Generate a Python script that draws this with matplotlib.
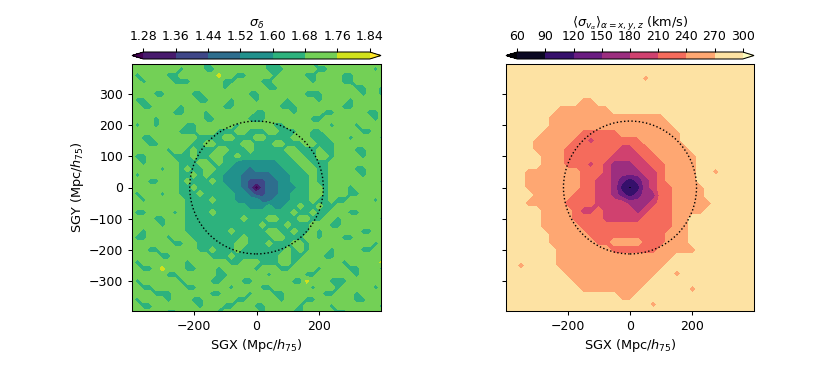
import numpy as np
import matplotlib
matplotlib.use("Agg")
import matplotlib.pyplot as plt
from matplotlib.patches import Circle

plt.rcParams.update({
    "font.size": 9.3,
    "xtick.labelsize": 9, "ytick.labelsize": 9,
    "axes.linewidth": 0.75,
    "xtick.major.size": 3.2, "ytick.major.size": 3.2,
    "xtick.major.pad": 3.2, "ytick.major.pad": 3.2,
    "xtick.major.width": 0.75, "ytick.major.width": 0.75,
})

# grid nodes, Mpc/h75
delta_x = list(range(-400, 401, 20))
delta_y = delta_x[::-1]
v_x = list(range(-400, 401, 25))
v_y = v_x[::-1]

# sigma_delta x 100, top row first
sigma_delta = [
    [172,172,172,164,164,172,172,172,172,172,172,172,164,172,172,172,172,172,164,172,172,172,164,164,172,172,172,172,172,164,172,172,172,172,172,172,164,172,172,172,172],
    [172,172,172,172,172,172,172,172,164,172,172,172,164,164,172,172,172,172,172,172,172,172,164,164,164,172,172,172,172,172,164,164,172,172,172,172,172,172,172,164,172],
    [172,164,172,172,172,172,164,164,172,172,172,172,172,172,178,172,172,164,164,172,172,172,172,164,172,172,172,172,164,164,172,172,172,172,164,164,172,172,172,172,172],
    [172,172,164,172,172,172,172,164,164,164,172,172,172,172,172,164,164,172,172,172,172,164,164,172,172,172,172,172,172,164,172,172,172,172,164,164,172,172,172,172,172],
    [172,172,172,172,172,172,172,172,172,172,172,172,172,172,172,164,172,172,172,172,172,172,164,164,172,172,172,172,172,172,172,172,172,172,172,172,164,164,172,172,164],
    [172,172,172,172,164,164,172,172,172,172,164,164,172,172,172,172,172,172,172,164,164,172,172,172,172,172,172,172,164,164,164,172,172,172,172,172,172,164,172,172,164],
    [172,164,164,172,172,172,172,172,172,172,172,164,164,172,172,172,164,172,172,172,164,172,172,172,172,164,172,172,172,172,164,172,172,172,172,164,172,172,172,172,172],
    [172,172,164,164,172,172,172,172,164,172,172,172,172,172,172,164,164,172,172,172,172,172,172,172,164,164,164,172,172,172,172,172,172,172,164,164,172,172,172,172,172],
    [172,172,172,172,172,172,172,164,164,172,172,172,164,172,172,172,172,172,172,172,164,164,172,172,172,172,164,172,172,172,172,164,164,172,172,172,172,172,164,164,172],
    [172,172,172,172,164,172,172,172,172,172,172,172,164,164,172,172,172,172,172,164,164,164,172,172,172,172,172,172,172,164,164,172,172,172,172,172,172,172,172,164,172],
    [172,164,172,172,164,172,172,172,172,164,164,172,172,172,172,172,172,164,172,172,172,172,172,164,164,172,172,172,172,172,172,172,164,172,172,172,164,172,172,172,172],
    [172,172,172,172,172,172,172,172,164,164,164,172,172,172,164,164,164,172,172,164,164,164,172,172,164,164,164,172,172,164,164,172,172,172,172,172,172,164,164,172,172],
    [172,172,164,164,172,172,172,172,172,172,172,164,164,164,164,172,172,164,164,164,172,172,164,164,164,164,172,172,172,164,164,164,172,172,172,164,172,172,172,172,164],
    [172,172,172,164,164,172,172,172,172,172,164,164,172,172,164,164,164,164,172,172,164,164,164,172,172,164,164,164,172,172,164,164,164,172,172,172,172,172,172,172,172],
    [172,172,172,172,172,172,164,172,172,164,172,164,164,164,172,172,164,164,164,172,164,164,164,164,164,172,172,164,164,164,172,164,164,172,172,172,164,164,172,172,172],
    [172,164,164,172,172,172,172,164,164,164,172,164,164,172,172,164,164,172,164,164,164,164,164,164,164,164,172,172,164,164,172,172,164,172,172,172,172,164,172,172,172],
    [172,172,164,172,172,172,172,172,164,164,164,172,172,164,172,164,164,156,156,156,156,156,156,156,164,164,164,172,172,164,164,164,172,172,172,172,172,172,172,172,172],
    [172,172,172,172,172,164,172,172,164,172,164,164,172,172,164,164,156,156,156,148,156,156,156,156,156,164,164,164,172,172,164,164,172,172,172,172,164,164,172,172,172],
    [172,164,172,172,172,172,172,172,164,164,172,164,172,164,164,156,156,156,148,148,148,148,148,156,156,156,164,164,164,172,164,164,172,172,172,172,172,164,172,172,172],
    [172,172,172,164,164,172,172,172,164,172,164,164,164,172,164,156,156,156,148,140,140,140,148,148,156,156,164,164,164,172,164,164,172,172,172,172,172,172,172,172,164],
    [172,172,172,172,172,172,172,172,164,164,172,164,164,164,164,164,156,156,148,140,120,140,148,148,156,156,156,164,164,172,172,164,172,172,172,164,172,172,172,172,172],
    [172,164,172,172,172,164,172,172,164,164,164,172,164,164,164,164,164,156,156,148,140,140,148,148,156,156,164,164,164,172,172,164,172,172,172,164,164,172,172,172,172],
    [172,172,164,172,172,172,172,172,172,164,164,164,164,172,164,164,164,156,156,156,156,148,148,156,156,156,164,164,164,172,164,164,172,164,164,172,172,172,172,164,172],
    [172,172,172,172,172,172,172,172,172,164,164,164,164,164,164,164,164,164,164,156,156,156,164,156,156,164,164,172,164,164,172,164,164,172,172,172,172,172,172,172,172],
    [172,164,164,172,172,172,172,164,172,164,164,164,164,172,164,164,164,164,164,164,164,164,164,164,164,164,172,164,164,172,164,164,172,172,172,164,164,172,172,172,172],
    [172,172,172,172,164,164,172,172,172,164,164,164,164,164,164,164,164,164,172,164,164,164,172,172,164,164,164,172,172,164,164,172,172,164,172,172,172,172,172,172,164],
    [172,172,172,172,172,164,172,172,172,164,164,164,164,164,164,164,164,164,164,164,164,172,164,164,164,172,164,164,164,172,172,172,164,164,172,172,172,172,172,172,172],
    [172,172,164,172,172,172,172,172,172,164,164,164,164,164,164,164,172,164,164,164,164,164,172,172,164,164,172,164,164,172,164,172,172,172,172,172,172,164,164,172,172],
    [172,164,164,172,172,172,164,172,172,172,164,164,164,164,164,164,164,164,172,164,164,164,164,172,172,164,164,164,172,172,164,172,172,172,164,164,172,172,172,172,172],
    [172,172,172,172,172,172,172,164,164,172,172,164,164,164,164,164,164,172,172,164,164,164,172,164,164,164,172,172,164,172,172,172,172,172,172,172,172,172,172,164,172],
    [172,172,172,164,164,172,172,172,172,172,172,164,164,172,164,164,164,172,164,164,164,164,164,164,164,172,164,172,164,172,172,172,164,172,172,172,172,164,164,172,172],
    [172,172,172,172,172,164,164,172,172,172,172,172,172,164,164,164,172,164,164,164,164,164,164,164,172,172,164,164,172,172,172,164,164,172,172,172,172,172,172,172,172],
    [172,164,172,172,172,172,172,172,172,164,172,172,172,172,172,172,164,164,172,172,172,164,164,164,172,172,164,172,172,172,172,172,172,172,164,172,172,172,172,172,178],
    [172,172,164,164,172,178,172,172,172,164,164,172,172,172,164,172,172,172,172,172,164,172,172,172,164,164,172,172,172,172,164,172,172,172,172,164,164,172,172,172,164],
    [172,172,172,172,172,172,164,164,172,172,172,172,172,172,164,164,172,172,172,172,172,172,164,172,172,172,172,172,164,164,172,172,172,172,172,172,164,172,172,172,172],
    [172,164,172,172,172,172,172,172,164,172,172,172,172,164,164,172,172,172,164,164,172,172,172,172,172,172,164,164,178,172,172,172,164,164,164,172,172,172,172,172,172],
    [172,172,164,164,172,172,172,172,172,164,164,172,172,172,172,172,164,172,172,172,172,164,164,172,172,172,172,172,172,164,172,172,172,164,172,172,172,172,172,164,172],
    [172,172,172,172,164,164,164,172,172,172,172,172,172,164,164,172,172,172,172,164,172,172,172,164,164,172,172,172,172,172,172,164,164,172,172,172,164,172,172,172,172],
    [172,164,172,172,172,172,164,172,172,172,164,164,172,172,172,172,172,164,164,172,172,172,172,172,164,172,172,172,164,164,172,172,172,172,172,172,164,164,172,172,172],
    [172,172,164,164,172,172,172,172,172,172,172,164,172,172,172,164,164,172,172,172,164,164,172,172,172,172,172,164,172,172,172,172,164,172,172,172,172,172,172,172,164],
    [172,172,172,172,172,172,164,164,172,172,172,172,172,172,164,172,172,172,172,172,172,164,172,172,172,172,164,164,172,172,172,172,172,164,164,172,172,172,172,172,172],
]

# velocity dispersion in km/s, top row first
sigma_v = [
    [285]*33,
    [285]*33,
    [285]*18 + [255] + [285]*14,
    [285]*33,
    [285]*33,
    [285]*10 + [255]*2 + [285]*21,
    [285]*7 + [255]*7 + [285]*19,
    [285]*6 + [255]*15 + [285]*12,
    [285]*6 + [255]*16 + [285]*11,
    [285]*5 + [255]*5 + [225]*5 + [255]*8 + [285]*10,
    [285]*4 + [255]*5 + [225]*2 + [195] + [225]*6 + [255]*5 + [285]*10,
    [285]*4 + [255]*4 + [225]*7 + [195]*2 + [225]*2 + [255]*5 + [285]*9,
    [285]*5 + [255]*3 + [225]*6 + [195]*4 + [225]*2 + [255]*5 + [285]*8,
    [285]*5 + [255]*3 + [225]*3 + [195] + [225] + [195] + [165]*3 + [195]*2 + [225]*2 + [255]*4 + [285]*8,
    [285]*3 + [255]*7 + [225]*3 + [195] + [165]*4 + [195]*2 + [225] + [255]*4 + [285]*2 + [255] + [285]*5,
    [285]*3 + [255]*7 + [225]*2 + [195]*2 + [165] + [135] + [105] + [135] + [165] + [195] + [225] + [255]*4 + [285]*8,
    [285]*3 + [255]*7 + [225]*2 + [195]*2 + [165] + [105] + [85] + [105] + [165] + [195] + [225]*2 + [255]*4 + [285]*7,
    [285]*4 + [255]*5 + [225]*3 + [195]*2 + [165] + [135] + [105] + [135] + [165]*2 + [225]*2 + [255]*4 + [285]*7,
    [285]*3 + [255]*5 + [225]*4 + [195]*4 + [165]*3 + [195] + [225]*2 + [255]*5 + [285]*6,
    [285]*5 + [255]*4 + [225] + [195]*2 + [225] + [195]*4 + [165] + [195] + [225]*3 + [255]*4 + [285]*7,
    [285]*5 + [255]*4 + [225]*4 + [195]*5 + [225]*4 + [255]*2 + [285]*9,
    [285]*5 + [255]*5 + [225]*12 + [255]*2 + [285]*9,
    [285]*6 + [255]*5 + [225]*10 + [255]*3 + [285]*9,
    [285]*6 + [255]*6 + [225]*2 + [255]*4 + [225]*3 + [255]*3 + [285]*9,
    [285]*7 + [255]*7 + [225]*6 + [255]*5 + [285]*8,
    [285]*7 + [255]*15 + [285]*11,
    [285]*2 + [255] + [285]*4 + [255]*14 + [285]*12,
    [285]*8 + [255]*12 + [285]*2 + [255] + [285]*10,
    [285]*9 + [255]*10 + [285]*14,
    [285]*10 + [255]*8 + [285]*6 + [255] + [285]*8,
    [285]*15 + [255]*2 + [285]*16,
    [285]*19 + [255] + [285]*13,
    [285]*33,
]

delta_levels = [1.28, 1.36, 1.44, 1.52, 1.60, 1.68, 1.76, 1.84]
v_levels = [60, 90, 120, 150, 180, 210, 240, 270, 300]
xticks = [-200, 0, 200]
yticks = [-300, -200, -100, 0, 100, 200, 300]
r_vir = 213

W, H = 830, 369


def box(x0, y0, x1, y1):
    # pixel box (top left origin) to figure fraction
    return [x0/W, 1 - y1/H, (x1 - x0)/W, (y1 - y0)/H]


fig = plt.figure(figsize=(W/100, H/100), dpi=100)
ax1 = fig.add_axes(box(132, 64, 381, 311))
ax2 = fig.add_axes(box(506, 64, 754, 311))
cax1 = fig.add_axes(box(132, 52, 381, 59))
cax2 = fig.add_axes(box(506, 52, 754, 59))

c1 = ax1.contourf(delta_x, delta_y, np.array(sigma_delta)/100, levels=delta_levels, cmap="viridis", extend="both")
c2 = ax2.contourf(v_x, v_y, np.array(sigma_v), levels=v_levels, cmap="magma", extend="both")

for ax in (ax1, ax2):
    ax.add_patch(Circle((0, 0), r_vir, fill=False, color="k", ls=":", lw=1.0))
    ax.set_xlim(-397, 397)
    ax.set_ylim(-396, 396)
    ax.set_xticks(xticks)
    ax.set_yticks(yticks)
    ax.set_xlabel(r"SGX (Mpc/$h_{75}$)", labelpad=3)
ax1.set_ylabel(r"SGY (Mpc/$h_{75}$)", labelpad=2)
ax2.set_yticklabels([])

cb1 = fig.colorbar(c1, cax=cax1, orientation="horizontal", ticks=delta_levels)
cb2 = fig.colorbar(c2, cax=cax2, orientation="horizontal", ticks=v_levels)
cb1.set_ticklabels(["%.2f" % v for v in delta_levels])
cb1.set_label(r"$\sigma_\delta$")
cb2.set_label(r"$\langle\sigma_{v_\alpha}\rangle_{\alpha=x,y,z}$ (km/s)")
for cax in (cax1, cax2):
    cax.xaxis.set_ticks_position("top")
    cax.xaxis.set_label_position("top")
    cax.minorticks_off()
    cax.xaxis.labelpad = 2

fig.savefig("out.png", dpi=100)
